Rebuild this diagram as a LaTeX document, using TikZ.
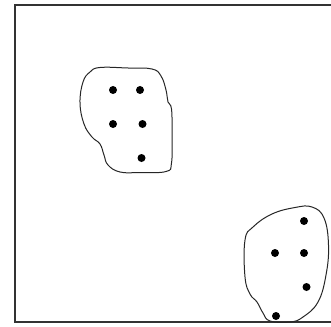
\documentclass[tikz,border=0pt]{standalone}
\begin{document}
\begin{tikzpicture}[x=1pt,y=-1pt,
  frame/.style={line width=1.3pt,color=black!80},
  blob/.style={line width=1pt,color=black!85},
  dotnode/.style={circle,fill=black,inner sep=0pt,minimum size=8pt}]
\useasboundingbox (0,0) rectangle (331,326);
% frame (right side runs off the picture)
\draw[frame] (331,5) -- (15,5) -- (15,322) -- (331,322);
% upper-left cluster
\draw[blob] plot[smooth cycle,tension=0.7] coordinates {
  (100,67.5) (128,68) (152,69) (161,76) (166,90) (168,102) (171.5,109) (172,135) (171.5,163) (166,171.5)
  (140,172.5) (120,172) (108,165) (104,155) (100,144) (92,137) (84,124) (80,103) (83,82) (90,72)};
\node[dotnode] (a1) at (113,90) {};
\node[dotnode] (a2) at (140,90) {};
\node[dotnode] (a3) at (113,124) {};
\node[dotnode] (a4) at (142.5,124) {};
\node[dotnode] (a5) at (141.5,158) {};
% lower-right cluster
\draw[blob] plot[smooth cycle,tension=0.7] coordinates {
  (312,207) (324,218) (328.5,245) (326,275) (318,302) (303,317) (290,322)
  (270,321) (263,313) (257,302) (250,294) (245,277) (245,240) (253,227)
  (272,214) (295,207.5)};
\node[dotnode] (b1) at (304,221) {};
\node[dotnode] (b2) at (275,253) {};
\node[dotnode] (b3) at (304,253) {};
\node[dotnode] (b4) at (306.5,287) {};
\node[dotnode] (b5) at (276,316) {};
\end{tikzpicture}
\end{document}
